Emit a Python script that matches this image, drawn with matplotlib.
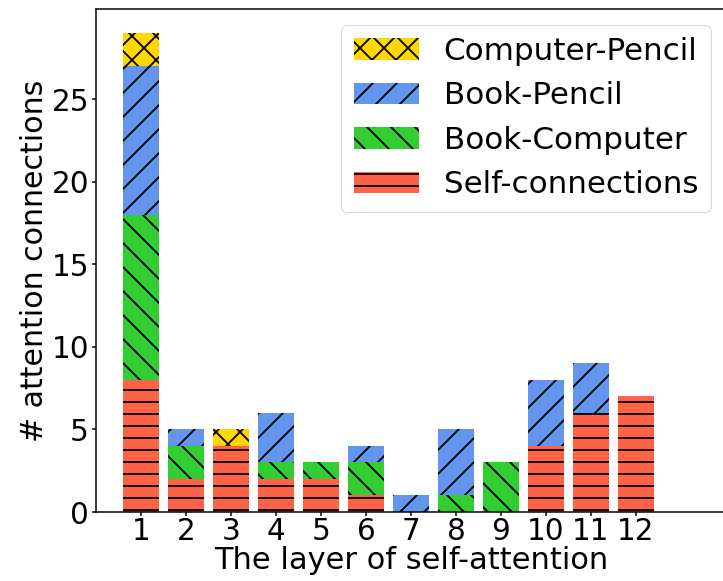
import matplotlib
matplotlib.use("Agg")
import matplotlib.pyplot as plt
import numpy as np

layers = [1, 2, 3, 4, 5, 6, 7, 8, 9, 10, 11, 12]
tick_labels = [str(l) for l in layers]

self_conn = [8, 2, 4, 2, 2, 1, 0, 0, 0, 4, 6, 7]
book_computer = [10, 2, 0, 1, 1, 2, 0, 1, 3, 0, 0, 0]
book_pencil = [9, 1, 0, 3, 0, 1, 1, 4, 0, 4, 3, 0]
computer_pencil = [2, 0, 1, 0, 0, 0, 0, 0, 0, 0, 0, 0]

series = [
    ("Self-connections", self_conn, "#FF6347", "-"),
    ("Book-Computer", book_computer, "#32CD32", "\\"),
    ("Book-Pencil", book_pencil, "#6495ED", "/"),
    ("Computer-Pencil", computer_pencil, "#FFD700", "x"),
]

plt.rcParams["hatch.linewidth"] = 1.8
plt.rcParams["font.family"] = ["DejaVu Sans"]

fig = plt.figure(figsize=(723 / 72, 581 / 72), dpi=72)
ax = fig.add_axes([96 / 723, 69 / 581, 630 / 723, 503 / 581])

x = np.array(layers)
bottom = np.zeros(len(layers))
handles = []
for name, vals, color, hatch in series:
    vals = np.array(vals, dtype=float)
    b = ax.bar(x, vals, width=0.78, bottom=bottom, color=color,
               edgecolor="black", linewidth=0, hatch=hatch, label=name)
    handles.append(b)
    bottom += vals

ax.set_xlim(0, 14)
ax.set_ylim(0, 30.45)
ax.set_xticks(x)
ax.set_xticklabels(tick_labels)
ax.set_yticks([0, 5, 10, 15, 20, 25])
ax.tick_params(labelsize=29.5, width=1.5, length=4)
ax.tick_params(axis="x", pad=1)
ax.tick_params(axis="y", pad=3)
for s in ax.spines.values():
    s.set_linewidth(1.5)

ax.set_xlabel("The layer of self-attention", fontsize=30.5, labelpad=0)
ax.set_ylabel("# attention connections", fontsize=30, labelpad=2)

ax.legend(handles[::-1], [h.get_label() for h in handles[::-1]],
          loc="upper right", fontsize=31, labelspacing=0.5,
          handlelength=2.1, handletextpad=0.8, borderaxespad=0.5)

fig.savefig("out.png", dpi=72)
